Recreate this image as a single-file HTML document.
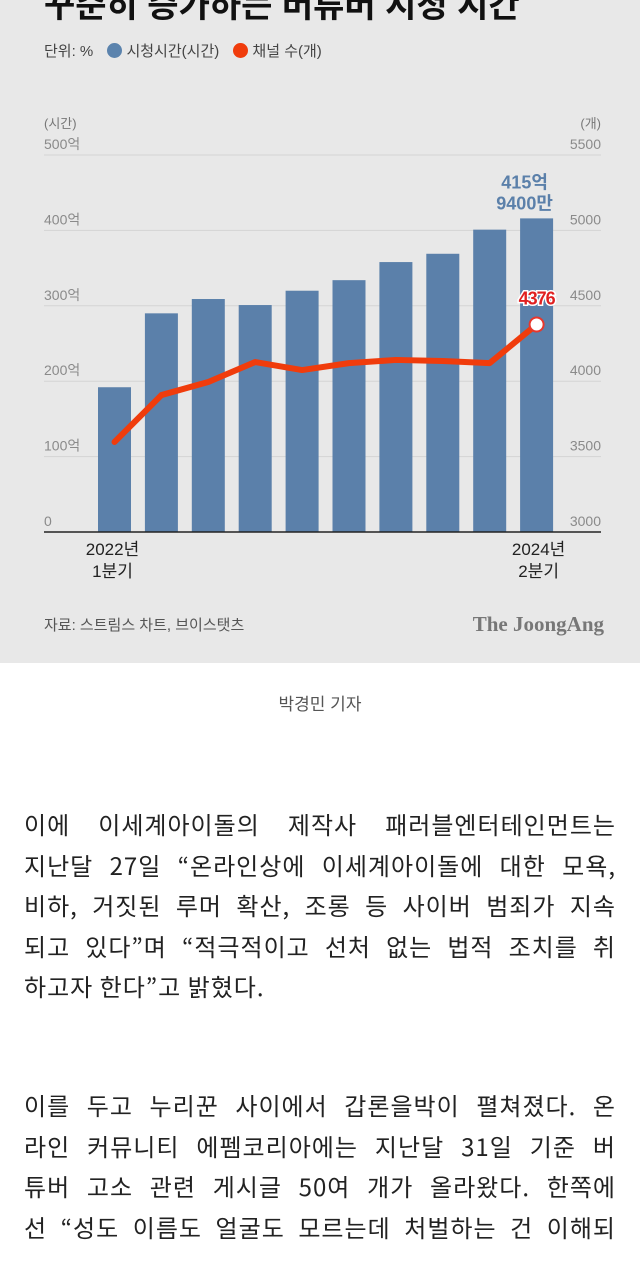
<!DOCTYPE html>
<html><head><meta charset="utf-8">
<style>
body{margin:0;width:640px;height:1280px;overflow:hidden;background:#fff;font-family:"Liberation Sans","Noto Sans CJK KR",sans-serif;}
#chartbox{position:absolute;left:0;top:0;width:640px;height:663px;background:#e8e8e8;overflow:hidden}
.title{position:absolute;left:44px;top:-22px;font-size:34px;font-weight:bold;color:#111;white-space:nowrap}
.legend{position:absolute;left:44px;top:40px;font-size:15px;color:#444;white-space:nowrap}
.dot{display:inline-block;width:15px;height:15px;border-radius:50%;vertical-align:-2px;margin:0 4px 0 10px}
.art{position:absolute;left:0;width:640px;font-size:24px;letter-spacing:1px;color:#222;font-family:"Noto Sans CJK KR","Liberation Sans",sans-serif}
.ln{height:40.5px;line-height:40.5px;padding:0 24px;text-align:justify;text-align-last:justify;white-space:nowrap}
.ln.last{text-align-last:left}
</style></head><body>
<div id="chartbox">
<div class="title">꾸준히 증가하는 버튜버 시청 시간</div>
<div class="legend">단위: % <span class="dot" style="background:#5b83ad"></span>시청시간(시간) <span class="dot" style="background:#f03c0c"></span>채널 수(개)</div>
<svg id="chart" width="640" height="663" style="position:absolute;left:0;top:0"></svg>
</div>
<div style="position:absolute;top:690px;width:640px;text-align:center;font-size:17px;color:#555">박경민 기자</div>
<div class="art" style="top:804px">
<div class="ln">이에 이세계아이돌의 제작사 패러블엔터테인먼트는</div>
<div class="ln">지난달 27일 “온라인상에 이세계아이돌에 대한 모욕,</div>
<div class="ln">비하, 거짓된 루머 확산, 조롱 등 사이버 범죄가 지속</div>
<div class="ln">되고 있다”며 “적극적이고 선처 없는 법적 조치를 취</div>
<div class="ln last">하고자 한다”고 밝혔다.</div>
</div>
<div class="art" style="top:1085px">
<div class="ln">이를 두고 누리꾼 사이에서 갑론을박이 펼쳐졌다. 온</div>
<div class="ln">라인 커뮤니티 에펨코리아에는 지난달 31일 기준 버</div>
<div class="ln">튜버 고소 관련 게시글 50여 개가 올라왔다. 한쪽에</div>
<div class="ln">선 “성도 이름도 얼굴도 모르는데 처벌하는 건 이해되</div>
</div>
<script>
const categories=["2022Q1","2022Q2","2022Q3","2022Q4","2023Q1","2023Q2","2023Q3","2023Q4","2024Q1","2024Q2"];
const hours=[192,290,309,301,320,334,358,369,401,415.94];
const channels=[3597,3908,3995,4127,4074,4120,4141,4134,4120,4376];
const leftTicks=[0,100,200,300,400,500];
const leftTickLabels=["0","100억","200억","300억","400억","500억"];
const rightTicks=[3000,3500,4000,4500,5000,5500];
const NS="http://www.w3.org/2000/svg";
const svg=document.getElementById('chart');
const y0=532,yTop=155;
const yL=v=>y0-(v/500)*(y0-yTop);
const yR=v=>y0-((v-3000)/2500)*(y0-yTop);
const xC=i=>114.5+i*46.9;
function mk(t,a){const e=document.createElementNS(NS,t);for(const k in a)e.setAttribute(k,a[k]);svg.appendChild(e);return e;}
function txt(s,x,y,a){const e=mk('text',Object.assign({x:x,y:y,'font-family':'"Liberation Sans","Noto Sans CJK KR",sans-serif'},a));e.textContent=s;return e;}
txt('(시간)',44,128,{'font-size':13,fill:'#777'});
txt('(개)',601,128,{'font-size':13,fill:'#777','text-anchor':'end'});
leftTicks.forEach((v,i)=>{
  if(i>0){const g=mk('line',{x1:44,x2:601,y1:yL(v),y2:yL(v),stroke:'#d4d4d4','stroke-width':1});
  }
  const t=txt(leftTickLabels[i],44,yL(v)-6,{'font-size':14,fill:'#8a8a8a'});
  
});
rightTicks.forEach(v=>{
  const t=txt(String(v),601,yR(v)-6,{'font-size':14,fill:'#8a8a8a','text-anchor':'end'});
  
});
hours.forEach((v,i)=>{
  const r=mk('rect',{x:xC(i)-16.5,y:yL(v),width:33,height:y0-yL(v),fill:'#5b80aa'});
  
});
const ax=mk('line',{x1:44,x2:601,y1:y0,y2:y0,stroke:'#222','stroke-width':1.5});

const pl=mk('polyline',{points:channels.map((v,i)=>xC(i)+','+yR(v)).join(' '),fill:'none',stroke:'#f03c0c','stroke-width':6,'stroke-linejoin':'round','stroke-linecap':'round'});

const last=channels.length-1;
const c=mk('circle',{cx:xC(last),cy:yR(channels[last]),r:7,fill:'#fff',stroke:'#e8372c','stroke-width':2});

const lv=txt(String(channels[last]),xC(last),yR(channels[last])-20,{'font-size':18,'font-weight':'bold',fill:'#e02020',stroke:'#fff','stroke-width':3,'paint-order':'stroke','text-anchor':'middle','letter-spacing':'-1'});

const b1=txt('415억',xC(last)-12,yL(hours[last])-30,{'font-size':18,'font-weight':'bold',fill:'#5b80aa','text-anchor':'middle'});

txt('9400만',xC(last)-12,yL(hours[last])-9,{'font-size':18,'font-weight':'bold',fill:'#5b80aa','text-anchor':'middle'});
txt('2022년',xC(0)-2,555,{'font-size':17,fill:'#222','text-anchor':'middle'});
txt('1분기',xC(0)-2,577,{'font-size':17,fill:'#222','text-anchor':'middle'});
txt('2024년',xC(last)+2,555,{'font-size':17,fill:'#222','text-anchor':'middle'});
txt('2분기',xC(last)+2,577,{'font-size':17,fill:'#222','text-anchor':'middle'});
const src=txt('자료: 스트림스 차트, 브이스탯츠',44,630,{'font-size':15,fill:'#555'});

const lg=txt('The JoongAng',604,631,{'font-size':21,'font-weight':'bold',fill:'#777','text-anchor':'end','font-family':'"Liberation Serif",serif'});

</script>
</body></html>
